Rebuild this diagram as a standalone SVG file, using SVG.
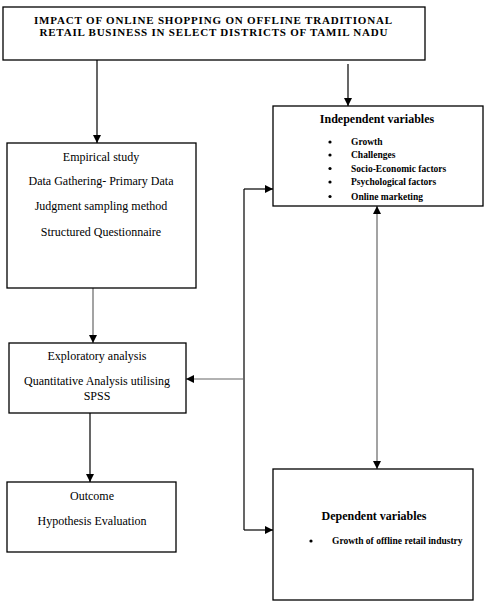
<svg xmlns="http://www.w3.org/2000/svg" width="487" height="615" viewBox="0 0 487 615">
<style>
.box{fill:#fff;stroke:#000;stroke-width:1.3}
.t{font-family:"Liberation Serif","Times New Roman","DejaVu Serif",serif;font-size:12px;fill:#000}
.c{text-anchor:middle}
.b{font-weight:bold}
.h{font-size:11px;font-weight:bold}
.s{font-size:9.5px;font-weight:bold}
.ln{stroke:#000;stroke-width:1.2;fill:none}
.g{stroke:#666}
</style>
<defs>
<marker id="ah" markerUnits="userSpaceOnUse" markerWidth="10" markerHeight="10" refX="8" refY="4" orient="auto-start-reverse">
<path d="M0,0 L8,4 L0,8 Z" fill="#000"/>
</marker>
</defs>
<rect width="487" height="615" fill="#fff"/>
<g id="connectors">
<line class="ln" x1="97" y1="60" x2="97" y2="143" marker-end="url(#ah)"/>
<line class="ln" x1="348" y1="64" x2="348" y2="106" marker-end="url(#ah)"/>
<line class="ln g" x1="93" y1="288" x2="93" y2="343" marker-end="url(#ah)"/>
<line class="ln" x1="90" y1="413" x2="90" y2="482" marker-end="url(#ah)"/>
<line class="ln" x1="244" y1="189" x2="244" y2="530"/>
<line class="ln" x1="244" y1="189" x2="273" y2="189" marker-end="url(#ah)"/>
<line class="ln g" x1="244" y1="379" x2="186" y2="379" marker-end="url(#ah)"/>
<line class="ln" x1="244" y1="530" x2="273" y2="530" marker-end="url(#ah)"/>
<line class="ln g" x1="377" y1="206" x2="377" y2="469" marker-start="url(#ah)" marker-end="url(#ah)"/>
</g>
<g id="title">
<rect class="box" x="3" y="7" width="422" height="53"/>
<text class="t h c" x="213" y="24" textLength="358" lengthAdjust="spacing">IMPACT OF ONLINE SHOPPING ON OFFLINE TRADITIONAL</text>
<text class="t h c" x="213.5" y="36" textLength="348" lengthAdjust="spacing">RETAIL BUSINESS IN SELECT DISTRICTS OF TAMIL NADU</text>
</g>
<g id="independent">
<rect class="box" x="273" y="106" width="210" height="100"/>
<text class="t b c" x="377" y="123">Independent variables</text>
<g class="t s">
<circle cx="330" cy="142" r="1.6"/><text x="351" y="145">Growth</text>
<circle cx="330" cy="155" r="1.6"/><text x="351" y="158">Challenges</text>
<circle cx="330" cy="168.5" r="1.6"/><text x="351" y="171.5">Socio-Economic factors</text>
<circle cx="330" cy="182" r="1.6"/><text x="351" y="185">Psychological factors</text>
<circle cx="330" cy="196.5" r="1.6"/><text x="351" y="199.5">Online marketing</text>
</g>
</g>
<g id="empirical">
<rect class="box" x="7" y="143" width="189" height="145"/>
<text class="t c" x="101" y="161">Empirical study</text>
<text class="t c" x="101" y="185">Data Gathering- Primary Data</text>
<text class="t c" x="101" y="210">Judgment sampling method</text>
<text class="t c" x="101" y="236">Structured Questionnaire</text>
</g>
<g id="exploratory">
<rect class="box" x="9" y="343" width="177" height="70"/>
<text class="t c" x="97" y="359.5">Exploratory analysis</text>
<text class="t c" x="97" y="384.5">Quantitative Analysis utilising</text>
<text class="t c" x="97" y="400">SPSS</text>
</g>
<g id="outcome">
<rect class="box" x="7" y="482" width="169" height="70"/>
<text class="t c" x="92" y="500">Outcome</text>
<text class="t c" x="92" y="525">Hypothesis Evaluation</text>
</g>
<g id="dependent">
<rect class="box" x="273" y="469" width="200" height="131"/>
<text class="t b c" x="374" y="520">Dependent variables</text>
<circle cx="311" cy="541" r="1.6"/>
<text class="t s" x="332" y="544">Growth of offline retail industry</text>
</g>
</svg>
